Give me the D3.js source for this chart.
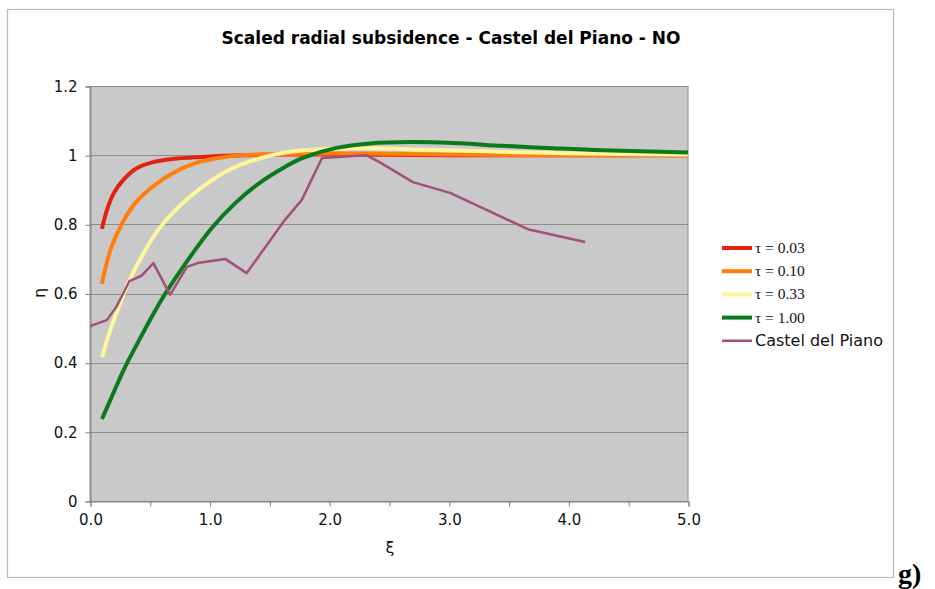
<!DOCTYPE html>
<html><head><meta charset="utf-8">
<script src="https://cdn.jsdelivr.net/npm/d3@7"></script>
<style>body{margin:0;background:#fff}svg{display:block}</style>
</head><body>
<svg id="c" width="935" height="589"></svg>
<script>
const title = "Scaled radial subsidence - Castel del Piano - NO";
const xTicks = [0, 0.5, 1, 1.5, 2, 2.5, 3, 3.5, 4, 4.5, 5];
const xLabels = [0, 1, 2, 3, 4, 5];
const yTicks = [0, 0.2, 0.4, 0.6, 0.8, 1, 1.2];
const yLabels = ["0", "0.2", "0.4", "0.6", "0.8", "1", "1.2"];
const seriesNames = ["τ = 0.03", "τ = 0.10", "τ = 0.33", "τ = 1.00", "Castel del Piano"];

const tau003 = [[0.10,0.787],[0.125,0.822],[0.15,0.850],[0.20,0.891],[0.27,0.925],[0.38,0.960],[0.52,0.979],[0.69,0.989],[0.94,0.995],[1.2,0.999],[1.6,1.002],[2.0,1.002],[2.5,1.001],[3.0,1.0],[4.0,1.0],[5.0,1.0]];
const tau010 = [[0.10,0.628],[0.125,0.668],[0.18,0.735],[0.27,0.804],[0.38,0.862],[0.52,0.908],[0.69,0.948],[0.88,0.977],[1.13,0.995],[1.49,1.003],[2.0,1.005],[2.5,1.004],[3.0,1.002],[4.0,1.0],[5.0,1.0]];
const tau033 = [[0.10,0.416],[0.15,0.474],[0.23,0.552],[0.32,0.630],[0.43,0.706],[0.57,0.784],[0.74,0.85],[0.94,0.908],[1.16,0.957],[1.41,0.99],[1.63,1.008],[2.0,1.018],[2.34,1.02],[2.8,1.016],[3.3,1.011],[3.8,1.007],[4.3,1.004],[5.0,1.002]];
const tau100 = [[0.10,0.237],[0.18,0.300],[0.29,0.385],[0.40,0.458],[0.52,0.535],[0.63,0.600],[0.79,0.683],[1.02,0.790],[1.21,0.860],[1.41,0.918],[1.63,0.966],[1.78,0.992],[2.06,1.021],[2.34,1.034],[2.68,1.038],[3.04,1.035],[3.45,1.027],[3.87,1.02],[4.29,1.014],[5.0,1.008]];
const castel = [[0,0.506],[0.14,0.523],[0.22,0.561],[0.33,0.636],[0.43,0.651],[0.53,0.688],[0.67,0.596],[0.81,0.677],[0.9,0.688],[1.13,0.7],[1.31,0.659],[1.63,0.813],[1.77,0.870],[1.94,0.992],[2.31,1.0],[2.42,0.98],[2.70,0.922],[3.01,0.891],[3.32,0.841],[3.66,0.786],[4.14,0.749]];

const series = [tau003, tau010, tau033, tau100, castel];
const colors = ["#e3220f", "#ff7f0a", "#fff59c", "#0a7a1c", "#a24f7c"];
const widths = [4, 4, 4, 4, 2.5];
const smooth = [true, true, true, true, false];

const svg = d3.select("#c");
const L = 90, R = 688, T = 86, B = 501;
const x = d3.scaleLinear().domain([0, 5]).range([L, R]);
const y = d3.scaleLinear().domain([0, 1.2]).range([B, T]);

svg.append("rect").attr("x", 7.5).attr("y", 9.5).attr("width", 886).attr("height", 568)
  .attr("fill", "#fff").attr("stroke", "#b8b8b8").attr("stroke-width", 1.2);

svg.append("rect").attr("x", L).attr("y", T).attr("width", R - L).attr("height", B - T)
  .attr("fill", "#c9c9c9");

svg.append("g").selectAll("line").data(yTicks.filter(d => d > 0)).join("line")
  .attr("x1", L).attr("x2", R).attr("y1", d => Math.round(y(d)) + 0.5).attr("y2", d => Math.round(y(d)) + 0.5)
  .attr("stroke", "#8c8c8c").attr("stroke-width", 1);

svg.append("rect").attr("x", L).attr("y", T + 0.5).attr("width", R - L).attr("height", B - T)
  .attr("fill", "none").attr("stroke", "#8c8c8c").attr("stroke-width", 1);

const fontSans = "DejaVu Sans, Verdana, sans-serif";
const fontSerif = "Liberation Serif, Times New Roman, serif";
const yAxis = d3.axisLeft(y).tickValues(yTicks).tickSize(5).tickPadding(8)
  .tickFormat((d, i) => yLabels[i]);
const gy = svg.append("g").attr("transform", `translate(${L + 0.5},0.5)`).call(yAxis);
gy.selectAll("text").attr("font-family", fontSans).attr("font-size", 15).attr("fill", "#111");
gy.selectAll("line,path").attr("stroke", "#808080");

const xAxis = d3.axisBottom(x).tickValues(xTicks).tickSize(5).tickPadding(8)
  .tickFormat(d => xLabels.includes(d) ? d3.format(".1f")(d) : "");
const gx = svg.append("g").attr("transform", `translate(0.5,${B + 0.5})`).call(xAxis);
gx.selectAll("text").attr("font-family", fontSans).attr("font-size", 15).attr("fill", "#111");
gx.selectAll("line,path").attr("stroke", "#808080");

svg.append("clipPath").attr("id", "pc").append("rect")
  .attr("x", L).attr("y", T - 10).attr("width", R - L + 2).attr("height", B - T + 20);
series.forEach((s, i) => {
  const line = d3.line().x(d => x(d[0])).y(d => y(d[1]))
    .curve(smooth[i] ? d3.curveCatmullRom.alpha(0.5) : d3.curveLinear);
  svg.append("path").datum(s).attr("d", line).attr("fill", "none")
    .attr("stroke", colors[i]).attr("stroke-width", widths[i])
    .attr("stroke-linejoin", "round").attr("stroke-linecap", "butt")
    .attr("clip-path", "url(#pc)");
});

svg.append("text").attr("x", 451).attr("y", 44).attr("text-anchor", "middle")
  .attr("font-family", fontSans).attr("font-weight", "bold").attr("font-size", 17)
  .attr("fill", "#000").text(title);

svg.append("text").attr("transform", "translate(45,293) rotate(-90)").attr("text-anchor", "middle")
  .attr("font-family", fontSans).attr("font-size", 16).attr("fill", "#111").text("η");
svg.append("text").attr("x", 390).attr("y", 553).attr("text-anchor", "middle")
  .attr("font-family", fontSans).attr("font-size", 16).attr("fill", "#111").text("ξ");

const lg = svg.append("g");
seriesNames.forEach((n, i) => {
  const yy = 248 + i * 23.2;
  lg.append("line").attr("x1", 722).attr("x2", 752).attr("y1", yy).attr("y2", yy)
    .attr("stroke", colors[i]).attr("stroke-width", widths[i]);
  lg.append("text").attr("x", 755).attr("y", yy + 5)
    .attr("font-family", i < 4 ? fontSerif : fontSans)
    .attr("font-size", i < 4 ? 15.5 : 16).attr("fill", "#111").text(n);
});

svg.append("text").attr("x", 898).attr("y", 583)
  .attr("font-family", fontSerif).attr("font-weight", "bold")
  .attr("font-size", 28).attr("fill", "#000").text("g)");
</script>
</body></html>
